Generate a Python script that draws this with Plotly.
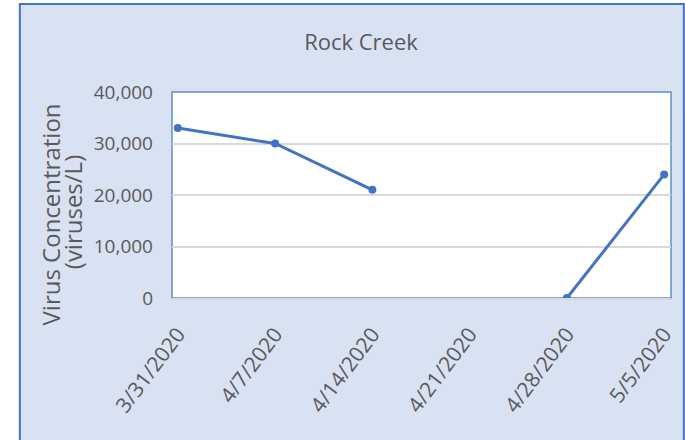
import plotly.graph_objects as go

# data
dates = ['3/31/2020', '4/7/2020', '4/14/2020', '4/21/2020', '4/28/2020', '5/5/2020']
concentration = [33000, 30000, 21000, None, 0, 24000]
y_ticks = [0, 10000, 20000, 30000, 40000]

W, H = 685, 440
L, R, T, B = 172, 8, 92, 142
pw, ph = W - L - R, H - T - B

FONT = 'Open Sans, sans-serif'
GREY = '#595959'
BLUE = '#4472C4'


# pixel -> paper coords helpers
def px(x):
    return (x - L) / pw


def py(y):
    return 1 - (y - T) / ph


fig = go.Figure()

fig.add_trace(go.Scatter(
    x=dates,
    y=concentration,
    mode='lines+markers',
    line=dict(color=BLUE, width=3),
    marker=dict(color=BLUE, size=8),
    connectgaps=False,
    showlegend=False,
))

# y-axis title, one annotation per line so the spacing can be tight
ytitle = dict(xref='paper', yref='paper', xanchor='center', yanchor='middle',
              textangle=-90, showarrow=False,
              font=dict(family=FONT, size=24, color=GREY))

fig.update_layout(
    width=W,
    height=H,
    margin=dict(l=L, r=R, t=T, b=B),
    paper_bgcolor='white',
    plot_bgcolor='rgba(0,0,0,0)',
    font=dict(family=FONT, color=GREY, size=19),
    title=dict(text='Rock Creek', x=361 / W, y=1 - 42 / H, xref='container', yref='container',
               xanchor='center', yanchor='middle',
               font=dict(family=FONT, size=22, color=GREY)),
    shapes=[
        # chart area panel
        dict(type='rect', xref='paper', yref='paper', layer='below',
             x0=px(18), x1=px(690), y0=py(445), y1=py(4),
             fillcolor='#D9E2F3', line=dict(color=BLUE, width=2)),
        # plot area
        dict(type='rect', xref='paper', yref='paper', layer='below',
             x0=0, x1=1, y0=0, y1=1,
             fillcolor='white', line=dict(color='#5B8ED0', width=1.5)),
    ],
    annotations=[
        dict(ytitle, text='Virus Concentration', x=px(49), y=py(214)),
        dict(ytitle, text='(viruses/L)', x=px(71), y=py(212)),
    ],
)

fig.update_xaxes(
    type='category',
    range=[-0.06, 5.07],
    tickangle=-53,
    showgrid=False,
    showline=True,
    linecolor='#D9D9D9',
    linewidth=1.5,
    ticks='',
    ticklabelstandoff=14,
    tickfont=dict(size=21, color=GREY),
)

fig.update_yaxes(
    range=[0, 40000],
    tickvals=y_ticks,
    tickformat=',',
    showgrid=True,
    gridcolor='#D9D9D9',
    gridwidth=1.5,
    zeroline=False,
    ticks='',
    ticklabelstandoff=18,
    tickfont=dict(size=19, color=GREY),
)

fig.write_html('out.html', config={'displayModeBar': False},
               post_script="document.body.style.margin='0px';")
